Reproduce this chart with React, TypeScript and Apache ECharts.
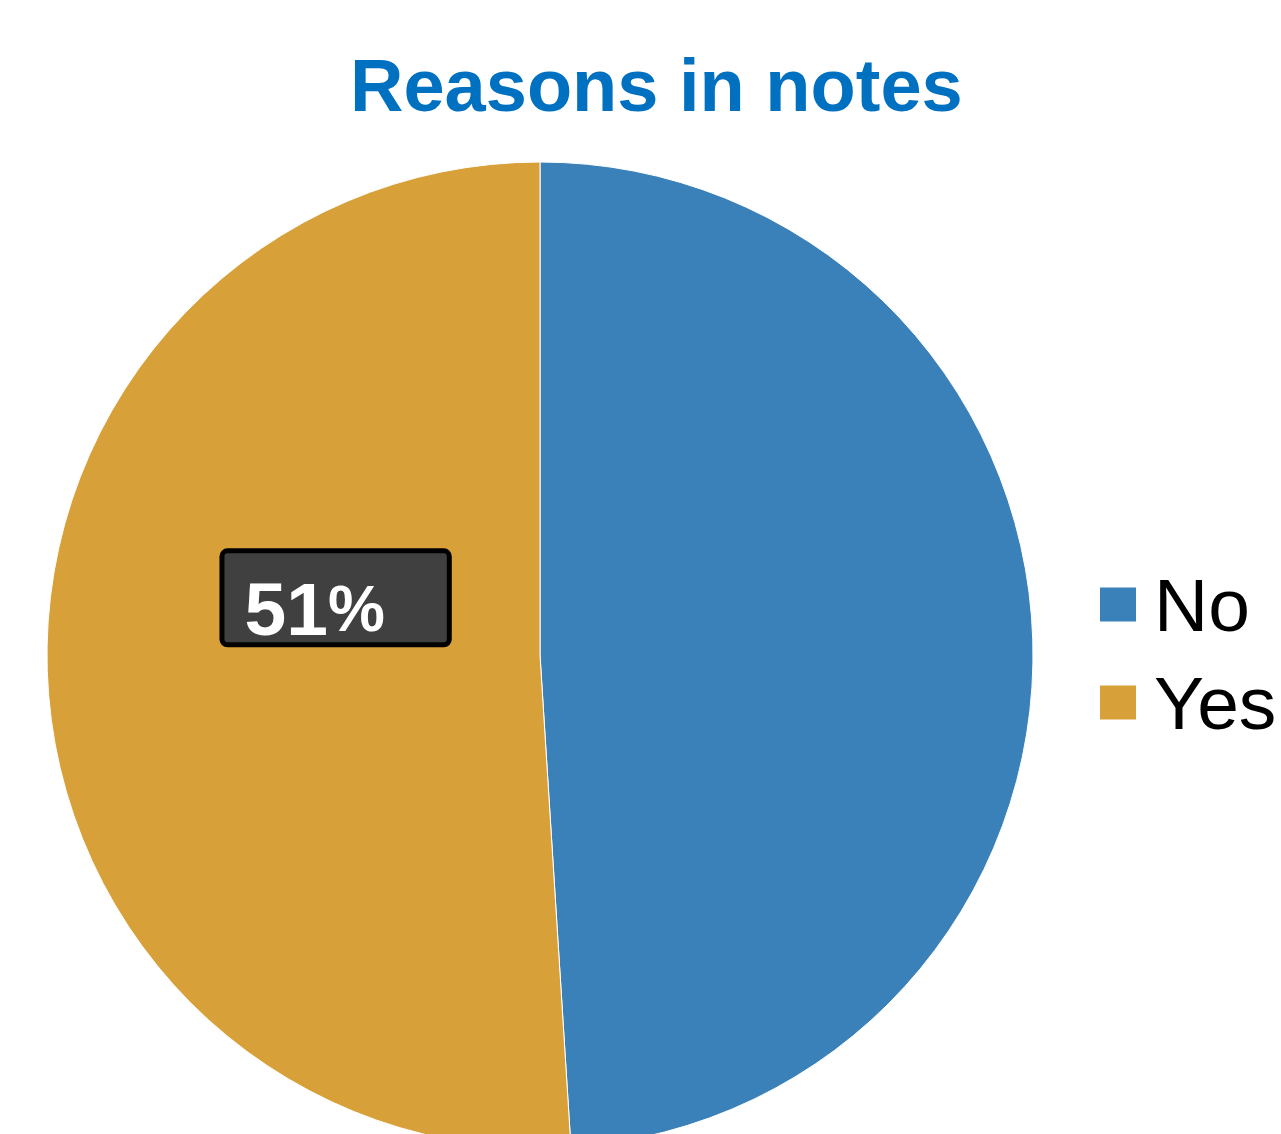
import React, { useEffect, useRef } from "react";
import * as echarts from "echarts";

const titleText = "Reasons in notes";
const categories = ["No", "Yes"];
const values = [49, 51];
const colors = ["#3B81B9", "#D8A039"];
const labelled = [false, true];

export default function App() {
  const ref = useRef<HTMLDivElement>(null);
  useEffect(() => {
    if (!ref.current) return;
    const chart = echarts.init(ref.current, null, { renderer: "svg" });
    chart.setOption({
      animation: false,
      backgroundColor: "#ffffff",
      title: {
        text: titleText,
        left: 350,
        top: 48,
        padding: 0,
        textStyle: {
          fontFamily: "Liberation Sans, Arial, sans-serif",
          fontSize: 74,
          fontWeight: "bold",
          color: "#0070C0",
        },
      },
      legend: {
        orient: "vertical",
        left: 1098,
        top: 567,
        padding: 0,
        itemWidth: 38,
        itemHeight: 36,
        itemGap: 23,
        icon: "rect",
        data: categories,
        textStyle: {
          fontFamily: "Liberation Sans, Arial, sans-serif",
          fontSize: 75,
          lineHeight: 75,
          color: "#000000",
          padding: [0, 0, 0, 12],
        },
      },
      series: [
        {
          type: "pie",
          center: [540, 655],
          radius: [0, 493],
          startAngle: 90,
          clockwise: true,
          avoidLabelOverlap: false,
          itemStyle: { borderColor: "#ffffff", borderWidth: 1 },
          labelLine: { show: false },
          labelLayout: (p: any) =>
            p.dataIndex === 1 ? { dx: 45, dy: -65 } : {},
          data: categories.map((c, i) => ({
            name: c,
            value: values[i],
            itemStyle: { color: colors[i] },
            label: {
              show: labelled[i],
              position: "inside",
              formatter: (p: any) => `{a|${Math.round(p.percent)}}{b|%}`,
              backgroundColor: "#404040",
              borderColor: "#000000",
              borderWidth: 5,
              borderRadius: 3,
              padding: [22, 62, 0, 20],
              rich: {
                a: {
                  fontFamily: "Liberation Sans, Arial, sans-serif",
                  fontSize: 75,
                  fontWeight: "bold",
                  color: "#ffffff",
                  lineHeight: 67,
                },
                b: {
                  fontFamily: "Liberation Sans, Arial, sans-serif",
                  fontSize: 64,
                  fontWeight: "bold",
                  color: "#ffffff",
                  lineHeight: 67,
                },
              },
            },
          })),
        },
      ],
    });
    return () => chart.dispose();
  }, []);
  return (
    <div
      ref={ref}
      style={{ position: "absolute", left: 0, top: 0, width: 1281, height: 1134 }}
    />
  );
}
